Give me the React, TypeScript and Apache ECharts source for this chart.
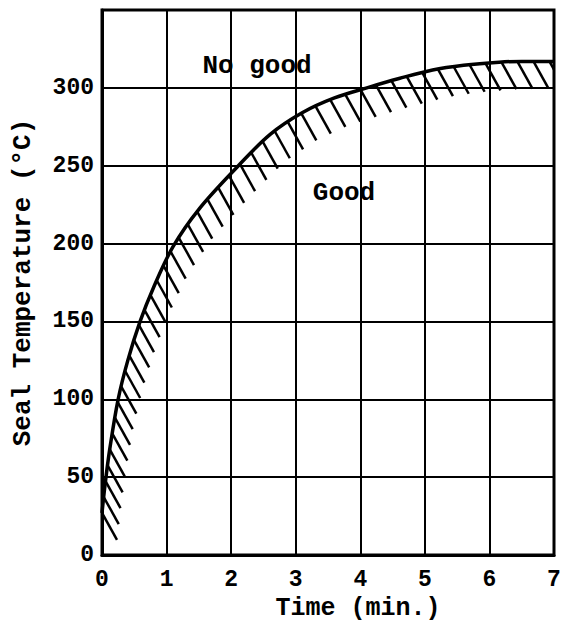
import React, { useEffect, useRef } from "react";
import * as echarts from "echarts";

const timeMin = [0, 0.05, 0.12, 0.25, 0.4, 0.59, 0.8, 1.1, 1.5, 2.09, 2.6, 3.1, 3.6, 4.14, 4.6, 5.12, 5.6, 6.15, 6.5, 7];
const sealTemp = [27, 46, 68, 100, 125, 150, 172, 198, 222, 249, 270, 284, 293.5, 300.5, 306, 311.5, 314.5, 316.5, 317, 317];
const xTicks = [0, 1, 2, 3, 4, 5, 6, 7];
const yTicks = [0, 50, 100, 150, 200, 250, 300];
const regionLabels = ["No good", "Good"];

const FONT = "'Liberation Mono', 'DejaVu Sans Mono', monospace";

export default function App() {
  const ref = useRef<HTMLDivElement>(null);
  useEffect(() => {
    if (!ref.current) return;
    const chart = echarts.init(ref.current, undefined, { renderer: "svg" });
    const curve = timeMin.map((t, i) => [t, sealTemp[i]]);
    chart.setOption({
      animation: false,
      backgroundColor: "#ffffff",
      textStyle: { fontFamily: FONT, color: "#000" },
      grid: {
        left: 102,
        right: 7,
        top: 10,
        bottom: 74,
        containLabel: false,
        outerBoundsMode: "none",
        show: true,
        borderColor: "#000",
        borderWidth: 3,
        backgroundColor: "transparent",
      },
      xAxis: {
        type: "value",
        min: xTicks[0],
        max: xTicks[xTicks.length - 1],
        interval: 1,
        name: "Time (min.)",
        nameLocation: "middle",
        nameGap: 41,
        nameMoveOverlap: false,
        nameTextStyle: { fontFamily: FONT, fontWeight: "bold", fontSize: 25, color: "#000", padding: [0, 0, 0, 60] },
        axisLine: { show: true, lineStyle: { color: "#000", width: 3 } },
        axisTick: { show: false },
        axisLabel: { margin: 13, fontFamily: FONT, fontWeight: "bold", fontSize: 23, color: "#000" },
        splitLine: { show: true, lineStyle: { color: "#000", width: 2 } },
      },
      yAxis: {
        type: "value",
        min: 0,
        max: 350,
        interval: 50,
        name: "Seal Temperature (°C)",
        nameLocation: "middle",
        nameGap: 66,
        nameMoveOverlap: false,
        nameTextStyle: { fontFamily: FONT, fontWeight: "bold", fontSize: 26, color: "#000" },
        axisLine: { show: true, lineStyle: { color: "#000", width: 3 } },
        axisTick: { show: false },
        axisLabel: {
          margin: 8,
          fontFamily: FONT,
          fontWeight: "bold",
          fontSize: 23,
          color: "#000",
          formatter: (v: number) => (yTicks.includes(v) ? String(v) : ""),
        },
        splitLine: { show: true, lineStyle: { color: "#000", width: 2 } },
      },
      graphic: [
        {
          type: "text",
          x: 257,
          y: 66,
          style: { text: regionLabels[0], font: `bold 26px ${FONT}`, fill: "#000", textAlign: "center", textVerticalAlign: "middle" },
        },
        {
          type: "text",
          x: 344,
          y: 193,
          style: { text: regionLabels[1], font: `bold 26px ${FONT}`, fill: "#000", textAlign: "center", textVerticalAlign: "middle" },
        },
      ],
      series: [
        {
          type: "line",
          data: curve,
          smooth: 0.35,
          showSymbol: false,
          symbol: "none",
          lineStyle: { color: "#000", width: 3.5 },
          z: 5,
        },
        {
          type: "custom",
          clip: true,
          data: [[0, 0]],
          z: 4,
          renderItem: (params: any, api: any) => {
            if (params.dataIndex !== 0) return null;
            const pts = curve.map((p) => api.coord(p));
            const children: any[] = [];
            const step = 16;
            let acc = 0;
            let next = 0;
            for (let i = 0; i < pts.length - 1; i++) {
              const [x1, y1] = pts[i];
              const [x2, y2] = pts[i + 1];
              const seg = Math.hypot(x2 - x1, y2 - y1);
              while (next <= acc + seg) {
                const t = (next - acc) / seg;
                const px = x1 + (x2 - x1) * t;
                const py = y1 + (y2 - y1) * t;
                children.push({
                  type: "line",
                  shape: { x1: px, y1: py, x2: px + 15, y2: py + 27 },
                  style: { stroke: "#000", lineWidth: 2.5 },
                });
                next += step;
              }
              acc += seg;
            }
            return { type: "group", children };
          },
        },
      ],
    });
    return () => chart.dispose();
  }, []);
  return (
    <div
      ref={ref}
      style={{ position: "absolute", left: 0, top: 0, width: 561, height: 629, background: "#fff" }}
    />
  );
}
